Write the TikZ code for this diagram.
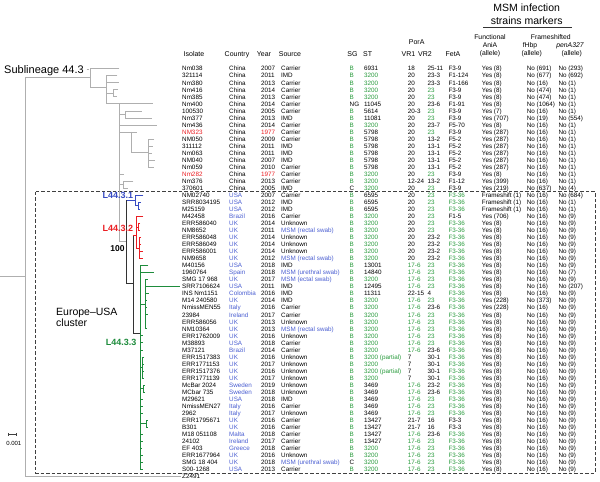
\documentclass[tikz,border=0pt]{standalone}
\usepackage{fontspec}
\setmainfont{Liberation Sans}
\definecolor{tgray}{RGB}{175,175,175}
\definecolor{tgreen}{RGB}{30,140,60}
\definecolor{tblue}{RGB}{55,75,195}
\definecolor{tred}{RGB}{235,30,35}
\definecolor{xgreen}{RGB}{40,155,60}
\definecolor{xblue}{RGB}{75,95,210}
\definecolor{xred}{RGB}{235,30,35}
\newcommand\Gc[1]{\textcolor{xgreen}{#1}}
\newcommand\Bc[1]{\textcolor{xblue}{#1}}
\newcommand\Rc[1]{\textcolor{xred}{#1}}
\begin{document}
\begin{tikzpicture}[x=1pt,y=-1pt,
  declare function={ry(\n)=68.7+7.03*(\n-1);},
  dat/.style={font=\fontsize{6.3}{7}\selectfont, inner sep=0pt, anchor=base west},
  hdr/.style={font=\fontsize{7}{8}\selectfont, inner sep=0pt, anchor=base},
  subh/.style={font=\fontsize{6.8}{8}\selectfont, inner sep=0pt, anchor=base},
  lab/.style={font=\bfseries\fontsize{9}{10}\selectfont, inner sep=0pt, anchor=east},
  gt/.style={draw=tgray, line width=0.75pt},
  bk/.style={draw=black!80, line width=0.75pt},
  bt/.style={draw=tblue, line width=0.75pt},
  rt/.style={draw=tred, line width=0.75pt},
  grt/.style={draw=tgreen, line width=0.75pt}]
\fill[white] (0,0) rectangle (600,482);
\useasboundingbox (0,0) rectangle (600,482);

% ---------- headers ----------
\node[font=\fontsize{10.5}{12}\selectfont, inner sep=0pt, anchor=base] (t1) at (526.7,11.7) {MSM infection};
\node[font=\fontsize{10.5}{12}\selectfont, inner sep=0pt, anchor=base] (t2) at (526.7,24.3) {strains markers};
\draw[line width=0.6pt, black!80] (483,27.7) -- (571.7,27.7);
\node[hdr] (hIso) at (194,56) {Isolate};
\node[hdr] (hCty) at (237,56) {Country};
\node[hdr] (hYr) at (264,56) {Year};
\node[hdr] (hSrc) at (290,56) {Source};
\node[hdr] (hSG) at (352.5,56) {SG};
\node[hdr] (hST) at (367.7,56) {ST};
\node[hdr] (hPor) at (416.7,44.7) {PorA};
\node[hdr] (hV1) at (408.5,56) {VR1};
\node[hdr] (hV2) at (425,56) {VR2};
\node[hdr] (hFet) at (453,56) {FetA};
\node[subh] (hA1) at (490,39.7) {Functional};
\node[subh] (hA2) at (490,47.4) {AniA};
\node[subh] (hA3) at (490,55.7) {(allele)};
\node[subh] (hF1) at (550.8,39.7) {Frameshifted};
\node[subh] (hF2) at (530,47.4) {fHbp};
\node[subh] (hP2) at (570,47.4) {\itshape penA327};
\node[subh] (hF3) at (531.7,55.7) {(allele)};
\node[subh] (hP3) at (571.7,55.7) {(allele)};

% ---------- table ----------
\foreach \i/\iso/\cty/\yr/\src/\sg/\st/\va/\vb/\fet/\ani/\fh/\pen in {
1/Nm038/China/2007/Carrier/\Gc{B}/6931/18/25-11/F3-9/Yes (8)/No (691)/No (293),
2/321114/China/2011/IMD/\Gc{B}/\Gc{3200}/20/23-3/F1-124/Yes (8)/No (677)/No (692),
3/Nm380/China/2013/Carrier/\Gc{B}/\Gc{3200}/20/23-3/F1-166/Yes (8)/No (16)/No (1),
4/Nm416/China/2014/Carrier/\Gc{B}/\Gc{3200}/20/\Gc{23}/F3-9/Yes (8)/No (474)/No (1),
5/Nm385/China/2013/Carrier/\Gc{B}/\Gc{3200}/20/\Gc{23}/F3-9/Yes (8)/No (474)/No (1),
6/Nm400/China/2014/Carrier/NG/11045/20/23-6/F1-91/Yes (8)/No (1064)/No (1),
7/100530/China/2005/Carrier/\Gc{B}/5614/20-3/\Gc{23}/F3-9/Yes (7)/No (16)/No (1),
8/Nm377/China/2013/IMD/\Gc{B}/11081/20/\Gc{23}/F3-9/Yes (707)/No (19)/No (554),
9/Nm436/China/2014/Carrier/\Gc{B}/\Gc{3200}/20/23-7/F5-70/Yes (8)/No (16)/No (1),
10/\Rc{NM323}/China/\Rc{1977}/Carrier/\Gc{B}/5798/20/\Gc{23}/F3-9/Yes (287)/No (16)/No (1),
11/NM050/China/2009/Carrier/\Gc{B}/5798/20/13-2/F5-2/Yes (287)/No (16)/No (1),
12/311112/China/2011/IMD/\Gc{B}/5798/20/13-1/F5-2/Yes (287)/No (16)/No (1),
13/Nm063/China/2011/IMD/\Gc{B}/5798/20/13-1/F5-2/Yes (287)/No (16)/No (1),
14/NM040/China/2007/IMD/\Gc{B}/5798/20/13-1/F5-2/Yes (287)/No (16)/No (1),
15/Nm059/China/2010/Carrier/\Gc{B}/5798/20/13-1/F5-2/Yes (287)/No (16)/No (1),
16/\Rc{Nm282}/China/\Rc{1977}/Carrier/\Gc{B}/\Gc{3200}/20/\Gc{23}/F3-9/Yes (8)/No (16)/No (1),
17/Nm376/China/2013/Carrier/\Gc{B}/\Gc{3200}/12-24/13-2/F1-12/Yes (399)/No (16)/No (1),
18/370601/China/2005/IMD/C/\Gc{3200}/20/\Gc{23}/F3-9/Yes (219)/No (637)/No (4),
19/NM02740/\Bc{USA}/2007/Carrier/\Gc{B}/6595/20/\Gc{23}/\Gc{F3-36}/Frameshift (1)/No (16)/No (684),
20/SRR8034195/\Bc{USA}/2012/IMD/\Gc{B}/6595/20/\Gc{23}/\Gc{F3-36}/Frameshift (1)/No (16)/No (1),
21/M25159/\Bc{USA}/2012/IMD/\Gc{B}/6595/20/\Gc{23}/\Gc{F3-36}/Frameshift (1)/No (16)/No (1),
22/M42458/\Bc{Brazil}/2016/Carrier/\Gc{B}/\Gc{3200}/20/\Gc{23}/F1-5/Yes (706)/No (16)/No (9),
23/ERR586040/\Bc{UK}/2014/Unknown/\Gc{B}/\Gc{3200}/20/\Gc{23}/\Gc{F3-36}/Yes (8)/No (16)/No (9),
24/NM8652/\Bc{UK}/2011/\Bc{MSM (rectal swab)}/\Gc{B}/\Gc{3200}/20/\Gc{23}/\Gc{F3-36}/Yes (8)/No (16)/No (9),
25/ERR586048/\Bc{UK}/2014/Unknown/\Gc{B}/\Gc{3200}/20/23-2/\Gc{F3-36}/Yes (8)/No (16)/No (9),
26/ERR586049/\Bc{UK}/2014/Unknown/\Gc{B}/\Gc{3200}/20/23-2/\Gc{F3-36}/Yes (8)/No (16)/No (9),
27/ERR586001/\Bc{UK}/2014/Unknown/\Gc{B}/\Gc{3200}/20/23-2/\Gc{F3-36}/Yes (8)/No (16)/No (9),
28/NM9658/\Bc{UK}/2012/\Bc{MSM (rectal swab)}/\Gc{B}/\Gc{3200}/20/23-2/\Gc{F3-36}/Yes (8)/No (16)/No (9),
29/M40156/\Bc{USA}/2018/IMD/\Gc{B}/13001/\Gc{17-6}/\Gc{23}/\Gc{F3-36}/Yes (8)/No (16)/No (9),
30/1960764/\Bc{Spain}/2018/\Bc{MSM (urethral swab)}/\Gc{B}/14840/\Gc{17-6}/\Gc{23}/\Gc{F3-36}/Yes (8)/No (16)/No (7),
31/SMG 17 968/\Bc{UK}/2017/\Bc{MSM (ectal swab)}/\Gc{B}/\Gc{3200}/\Gc{17-6}/\Gc{23}/\Gc{F3-36}/Yes (8)/No (16)/No (9),
32/SRR7106624/\Bc{USA}/2011/IMD/\Gc{B}/12495/\Gc{17-6}/\Gc{23}/\Gc{F3-36}/Yes (8)/No (16)/No (207),
33/INS Nm1151/\Bc{Colombia}/2016/IMD/\Gc{B}/11311/22-15/4/\Gc{F3-36}/Yes (8)/No (16)/No (9),
34/M14 240580/\Bc{UK}/2014/IMD/\Gc{B}/\Gc{3200}/\Gc{17-6}/\Gc{23}/\Gc{F3-36}/Yes (228)/No (373)/No (9),
35/NmissMEN55/\Bc{Italy}/2016/Carrier/\Gc{B}/\Gc{3200}/\Gc{17-6}/23-6/\Gc{F3-36}/Yes (228)/No (16)/No (9),
36/23984/\Bc{Ireland}/2017/Carrier/\Gc{B}/\Gc{3200}/\Gc{17-6}/\Gc{23}/\Gc{F3-36}/Yes (8)/No (16)/No (9),
37/ERR586056/\Bc{UK}/2013/Unknown/\Gc{B}/\Gc{3200}/\Gc{17-6}/\Gc{23}/\Gc{F3-36}/Yes (8)/No (16)/No (9),
38/NM10364/\Bc{UK}/2013/\Bc{MSM (rectal swab)}/\Gc{B}/\Gc{3200}/\Gc{17-6}/\Gc{23}/\Gc{F3-36}/Yes (8)/No (16)/No (9),
39/ERR1762009/\Bc{UK}/2016/Unknown/\Gc{B}/\Gc{3200}/\Gc{17-6}/\Gc{23}/\Gc{F3-36}/Yes (8)/No (16)/No (9),
40/M38893/\Bc{USA}/2018/Carrier/\Gc{B}/\Gc{3200}/\Gc{17-6}/\Gc{23}/\Gc{F3-36}/Yes (8)/No (16)/No (9),
41/M37121/\Bc{Brazil}/2014/Carrier/\Gc{B}/\Gc{3200}/\Gc{17-6}/23-6/\Gc{F3-36}/Yes (8)/No (16)/No (9),
42/ERR1517383/\Bc{UK}/2016/Unknown/\Gc{B}/\Gc{3200 (partial)}/7/30-1/\Gc{F3-36}/Yes (8)/No (16)/No (9),
43/ERR1771153/\Bc{UK}/2017/Unknown/\Gc{B}/\Gc{3200}/7/30-1/\Gc{F3-36}/Yes (8)/No (16)/No (9),
44/ERR1517376/\Bc{UK}/2016/Unknown/\Gc{B}/\Gc{3200 (partial)}/7/30-1/\Gc{F3-36}/Yes (8)/No (16)/No (9),
45/ERR1771139/\Bc{UK}/2017/Unknown/\Gc{B}/\Gc{3200}/7/30-1/\Gc{F3-36}/Yes (8)/No (16)/No (9),
46/McBar 2024/\Bc{Sweden}/2019/Unknown/\Gc{B}/3469/\Gc{17-6}/23-2/\Gc{F3-36}/Yes (8)/No (16)/No (9),
47/MCbar 735/\Bc{Sweden}/2018/Unknown/\Gc{B}/3469/\Gc{17-6}/23-6/\Gc{F3-36}/Yes (8)/No (16)/No (9),
48/M29621/\Bc{USA}/2018/IMD/\Gc{B}/3469/\Gc{17-6}/\Gc{23}/\Gc{F3-36}/Yes (8)/No (16)/No (9),
49/NmissMEN27/\Bc{Italy}/2016/Carrier/\Gc{B}/3469/\Gc{17-6}/\Gc{23}/\Gc{F3-36}/Yes (8)/No (16)/No (9),
50/2962/\Bc{Italy}/2017/Unknown/\Gc{B}/3469/\Gc{17-6}/\Gc{23}/\Gc{F3-36}/Yes (8)/No (16)/No (9),
51/ERR1795671/\Bc{UK}/2016/Carrier/\Gc{B}/13427/21-7/16/F3-3/Yes (8)/No (16)/No (9),
52/B301/\Bc{UK}/2016/Carrier/\Gc{B}/13427/21-7/16/F3-3/Yes (8)/No (16)/No (9),
53/M18 051108/\Bc{Malta}/2018/Carrier/\Gc{B}/13427/\Gc{17-6}/23-6/\Gc{F3-36}/Yes (8)/No (16)/No (9),
54/24102/\Bc{Ireland}/2017/Carrier/\Gc{B}/13427/\Gc{17-6}/\Gc{23}/\Gc{F3-36}/Yes (8)/No (16)/No (9),
55/EF 403/\Bc{Greece}/2018/Carrier/\Gc{B}/\Gc{3200}/\Gc{17-6}/\Gc{23}/\Gc{F3-36}/Yes (8)/No (16)/No (9),
56/ERR1677964/\Bc{UK}/2016/Unknown/\Gc{B}/\Gc{3200}/\Gc{17-6}/\Gc{23}/\Gc{F3-36}/Yes (8)/No (16)/No (9),
57/SMG 18 404/\Bc{UK}/2018/\Bc{MSM (urethral swab)}/C/\Gc{3200}/\Gc{17-6}/\Gc{23}/\Gc{F3-36}/Yes (8)/No (16)/No (9),
58/S00-1268/\Bc{USA}/2013/Carrier/\Gc{B}/\Gc{3200}/\Gc{17-6}/\Gc{23}/\Gc{F3-36}/Yes (8)/No (16)/No (9)}
{
  \node[dat] (iso\i) at (182,{ry(\i)+2.25}) {\iso};
  \node[dat] (cty\i) at (229,{ry(\i)+2.25}) {\cty};
  \node[dat] (yr\i) at (261,{ry(\i)+2.25}) {\yr};
  \node[dat] (src\i) at (281,{ry(\i)+2.25}) {\src};
  \node[dat] (sg\i) at (349.5,{ry(\i)+2.25}) {\sg};
  \node[dat] (st\i) at (364,{ry(\i)+2.25}) {\st};
  \node[dat] (va\i) at (407.7,{ry(\i)+2.25}) {\va};
  \node[dat] (vb\i) at (427.3,{ry(\i)+2.25}) {\vb};
  \node[dat] (fe\i) at (448.3,{ry(\i)+2.25}) {\fet};
  \node[dat] (an\i) at (481.7,{ry(\i)+2.25}) {\ani};
  \node[dat] (fh\i) at (526.7,{ry(\i)+2.25}) {\fh};
  \node[dat] (pe\i) at (558.3,{ry(\i)+2.25}) {\pen};
}
\node[dat] (iso59) at (182,{ry(59)+2.25}) {Z2491};

% ---------- dashed cluster box ----------
\draw[black!75, line width=0.8pt, dash pattern=on 3.5pt off 2pt] (35.7,191.8) rectangle (595,472.9);

% ---------- tree: grey part ----------
\draw[gt] (0,276.7) -- (25,276.7);
\draw[gt] (25,77.7) -- (25,{ry(59)}) -- (181,{ry(59)});
\draw[gt] (25,77.7) -- (90.7,77.7);
\draw[gt] (86.5,69) -- (89,69);
\draw[gt] (119.3,{ry(1)}) -- (90.7,{ry(1)}) -- (90.7,87.3) -- (106,87.3);
\draw[gt] (117.3,{ry(2)}) -- (106,{ry(2)}) -- (106,{ry(6)}) -- (153.3,{ry(6)});
\draw[gt] (106,{ry(3)}) -- (119,{ry(3)});
\draw[gt] (106,93.3) -- (113,93.3);
\draw[gt] (118,{ry(4)}) -- (113,{ry(4)}) -- (113,{ry(5)}) -- (117,{ry(5)});
\draw[gt] (119.3,{ry(6)}) -- (119.3,241.7) -- (126.7,241.7);
\draw[gt] (119.3,114.4) -- (125,114.4);
\draw[gt] (141.7,{ry(7)}) -- (125,{ry(7)}) -- (125,{ry(8)}) -- (151.7,{ry(8)});
\draw[gt] (119.3,{ry(9)}) -- (156.7,{ry(9)});
\draw[gt] (119.3,{ry(10)}) -- (137,{ry(10)});
\draw[gt] (131.7,{ry(10)}) -- (131.7,152) -- (148.3,152);
\draw[gt] (154,{ry(11)}) -- (148.3,{ry(11)}) -- (148.3,{ry(15)}) -- (154,{ry(15)});
\draw[gt] (148.3,{ry(12)}) -- (153,{ry(12)});
\draw[gt] (148.3,{ry(13)}) -- (152,{ry(13)});
\draw[gt] (148.3,{ry(14)}) -- (155,{ry(14)});
\draw[gt] (119.3,{ry(16)}) -- (124,{ry(16)});
\draw[gt] (119.3,184.7) -- (123.3,184.7);
\draw[gt] (133.3,{ry(17)}) -- (123.3,{ry(17)}) -- (123.3,{ry(18)}) -- (128.3,{ry(18)});

% ---------- tree: Europe-USA cluster ----------
\draw[bk] (126.7,200) -- (126.7,283.3) -- (133.3,283.3);
\draw[bk] (133.3,235) -- (133.3,333.3) -- (140,333.3);
% L44.3.1
\draw[bt] (126.7,200) -- (135,200);
\draw[bt] (143.3,{ry(19)}) -- (135,{ry(19)}) -- (135,205.8) -- (138.3,205.8);
\draw[bt] (140.5,{ry(20)}) -- (138.3,{ry(20)}) -- (138.3,{ry(21)}) -- (140,{ry(21)});
% L44.3.2
\draw[rt] (133.3,235) -- (136.7,235);
\draw[rt] (143.3,{ry(22)}) -- (136.7,{ry(22)}) -- (136.7,248) -- (139.3,248);
\draw[rt] (136.7,226.9) -- (138.3,226.9);
\draw[rt] (140,{ry(23)}) -- (138.3,{ry(23)}) -- (138.3,{ry(24)}) -- (140,{ry(24)});
\draw[rt] (141,{ry(25)}) -- (139.3,{ry(25)}) -- (139.3,{ry(28)}) -- (143.3,{ry(28)});
\draw[rt] (139.3,{ry(26)}) -- (141,{ry(26)});
\draw[rt] (139.3,{ry(27)}) -- (142.7,{ry(27)});
% L44.3.3
\draw[grt] (148.3,{ry(29)}) -- (140,{ry(29)}) -- (140,{ry(58)}) -- (143,{ry(58)});
\draw[grt] (140,{ry(30)}) -- (154,{ry(30)});
\draw[grt] (140,304.2) -- (145,304.2);
\draw[grt] (147.5,{ry(31)}) -- (145,{ry(31)}) -- (145,{ry(38)}) -- (147,{ry(38)});
\draw[grt] (145,{ry(32)}) -- (180,{ry(32)});
\draw[grt] (145,{ry(33)}) -- (149,{ry(33)});
\draw[grt] (145,{ry(34)}) -- (147,{ry(34)});
\draw[grt] (145,{ry(35)}) -- (146.5,{ry(35)});
\draw[grt] (145,{ry(36)}) -- (147.5,{ry(36)});
\draw[grt] (145,{ry(37)}) -- (146.3,{ry(37)});
\draw[grt] (140,{ry(39)}) -- (142.5,{ry(39)});
\draw[grt] (140,{ry(40)}) -- (143,{ry(40)});
\draw[grt] (140,{ry(41)}) -- (142.5,{ry(41)});
\draw[grt] (140,367.5) -- (142.5,367.5);
\draw[grt] (144,{ry(42)}) -- (142.5,{ry(42)}) -- (142.5,{ry(45)}) -- (144,{ry(45)});
\draw[grt] (142.5,{ry(43)}) -- (144,{ry(43)});
\draw[grt] (142.5,{ry(44)}) -- (144,{ry(44)});
\draw[grt] (140,388.6) -- (143,388.6);
\draw[grt] (144.5,{ry(46)}) -- (143,{ry(46)}) -- (143,{ry(47)}) -- (144.5,{ry(47)});
\draw[grt] (140,{ry(48)}) -- (142.5,{ry(48)});
\draw[grt] (140,{ry(49)}) -- (142.5,{ry(49)});
\draw[grt] (140,{ry(50)}) -- (142.5,{ry(50)});
\draw[grt] (140,423.7) -- (146.7,423.7);
\draw[grt] (147.7,{ry(51)}) -- (146.7,{ry(51)}) -- (146.7,{ry(52)}) -- (147.7,{ry(52)});
\draw[grt] (140,{ry(53)}) -- (142.5,{ry(53)});
\draw[grt] (140,{ry(54)}) -- (143,{ry(54)});
\draw[grt] (140,{ry(55)}) -- (142,{ry(55)});
\draw[grt] (140,{ry(56)}) -- (142.5,{ry(56)});
\draw[grt] (140,{ry(57)}) -- (143,{ry(57)});

% ---------- tree labels ----------
\node[font=\fontsize{11}{12}\selectfont, inner sep=0pt, anchor=base west] (sub) at (4,73) {Sublineage 44.3};
\node[lab, text=tblue] (l1) at (133.3,195) {L44.3.1};
\node[lab, text=tred] (l2) at (133.3,228.3) {L44.3.2};
\node[lab, text=tgreen] (l3) at (136.7,342.3) {L44.3.3};
\node[font=\bfseries\fontsize{8.5}{9}\selectfont, inner sep=0pt] (bs) at (117.5,249) {100};
\node[font=\fontsize{10.5}{12}\selectfont, inner sep=0pt, anchor=base west] (eu1) at (56,315.5) {Europe–USA};
\node[font=\fontsize{10.5}{12}\selectfont, inner sep=0pt, anchor=base west] (eu2) at (56,326.5) {cluster};

% ---------- scale bar ----------
\draw[black!75, line width=0.5pt] (8.3,434.3) -- (16.7,434.3);
\draw[black!75, line width=0.5pt] (8.3,432.8) -- (8.3,435.8);
\draw[black!75, line width=0.5pt] (16.7,432.8) -- (16.7,435.8);
\node[font=\fontsize{6}{7}\selectfont, inner sep=0pt] (sc) at (13.8,443.3) {0.001};
\end{tikzpicture}
\end{document}
